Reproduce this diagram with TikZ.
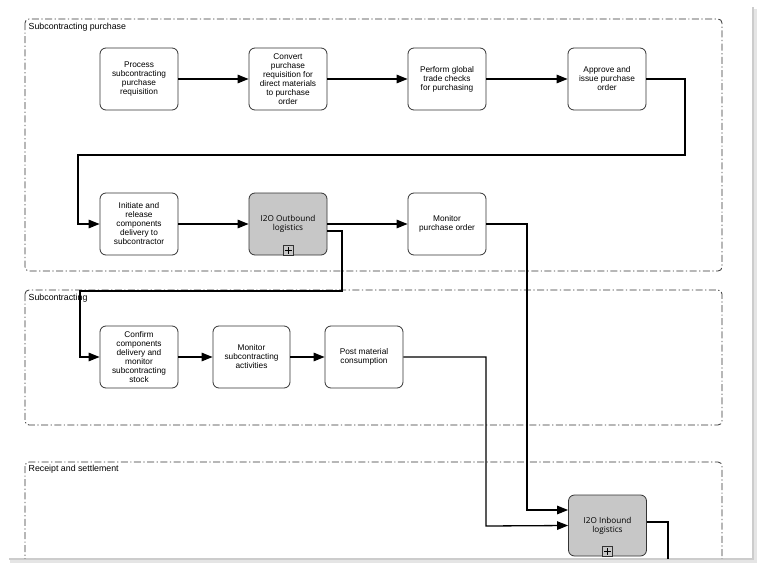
\documentclass[tikz,border=0pt]{standalone}
\usepackage{fontspec}
\setmainfont{Liberation Sans}
\newfontfamily\ifont{Open Sans}
\usetikzlibrary{arrows.meta,positioning,calc}
\tikzset{
  task/.style={draw=black!80, line width=0.8pt, rounded corners=6pt, fill=white,
    minimum width=78pt, minimum height=62pt, inner sep=1pt, align=center,
    font=\fontsize{8.3}{9}\selectfont},
  subproc/.style={task, fill=black!22, font=\ifont\fontsize{8.2}{9}\selectfont},
  grp/.style={draw=black!80, line width=0.8pt, rounded corners=4pt,
    dash pattern=on 7pt off 2.5pt on 1.2pt off 2.5pt},
  grplabel/.style={anchor=west, font=\fontsize{8.8}{9}\selectfont, inner sep=1.5pt,
    fill=white},
  flow/.style={draw=black, line width=1.3pt, -{Triangle[length=11pt,width=8.5pt]}},
  plainflow/.style={draw=black, line width=1.3pt},
  plusbox/.style={draw=black!80, line width=0.6pt, fill=black!22, minimum size=10pt, inner sep=0pt}
}
\begin{document}
\begin{tikzpicture}[x=1pt,y=-1pt]
\useasboundingbox (0,0) rectangle (764,570);
% page and shadow
\fill[black!10] (10,9) rectangle (757,563);
\fill[black!20] (9,7) rectangle (754,560);
\fill[white] (7,5) rectangle (752,558);
\begin{scope}
\clip (7,5) rectangle (752,558);
% groups
\draw[grp] (25,19) rectangle (722,271);
\draw[grp] (25,290) rectangle (722,425);
\draw[grp] (25,462) rectangle (722,600);
\node[grplabel] (g1) at (27,27) {Subcontracting purchase};
\node[grplabel, fill=none] (g2) at (27,298) {Subcontracting};
\node[grplabel, fill=none] (g3) at (27,469) {Receipt and settlement};
% row 1
\node[task] (n1) at (139,79) {Process\\subcontracting\\purchase\\requisition};
\node[task] (n2) at (288,79) {Convert\\purchase\\requisition for\\direct materials\\to purchase\\order};
\node[task] (n3) at (447,79) {Perform global\\trade checks\\for purchasing};
\node[task] (n4) at (607,79) {Approve and\\issue purchase\\order};
% row 2
\node[task] (n5) at (139,224) {Initiate and\\release\\components\\delivery to\\subcontractor};
\node[subproc] (n6) at (288,224) {I2O Outbound\\logistics};
\node[plusbox, anchor=south] (p6) at (n6.south) {};
\draw[line width=0.6pt] ([xshift=-3.5pt]p6.center) -- ([xshift=3.5pt]p6.center)
  ([yshift=-3.5pt]p6.center) -- ([yshift=3.5pt]p6.center);
\node[task] (n7) at (447,224) {Monitor\\purchase order};
% row 3
\node[task] (n8) at (139,357) {Confirm\\components\\delivery and\\monitor\\subcontracting\\stock};
\node[task, minimum width=77pt] (n9) at (251.5,357) {Monitor\\subcontracting\\activities};
\node[task] (n10) at (364,357) {Post material\\consumption};
% row 4
\node[subproc, minimum height=61pt] (n11) at (607.5,525.5) {I2O Inbound\\logistics};
\node[plusbox, anchor=south] (p11) at (n11.south) {};
\draw[line width=0.6pt] ([xshift=-3.5pt]p11.center) -- ([xshift=3.5pt]p11.center)
  ([yshift=-3.5pt]p11.center) -- ([yshift=3.5pt]p11.center);
% coordinates
\coordinate (c1) at (685,155);
\coordinate (c2) at (78,155);
\coordinate (c3) at (342,291);
\coordinate (c4) at (80,291);
\coordinate (c5) at (527,510);
\coordinate (c6) at (486,526);
\coordinate (c7) at (668,575);
% connectors
\draw[flow] (n1) -- (n2);
\draw[flow] (n2) -- (n3);
\draw[flow] (n3) -- (n4);
\draw[flow] (n4.east) -| (c1) -- (c2) |- (n5.west);
\draw[flow] (n5) -- (n6);
\draw[flow] (n6) -- (n7);
\draw[flow] ([yshift=-7pt]n6.east) -| (c3) -- (c4) |- (n8.west);
\draw[flow] (n8) -- (n9);
\draw[flow] (n9) -- (n10);
\draw[flow] (n7.east) -| (c5) -- ([yshift=15.5pt]n11.west);
\draw[flow] (n10.east) -| (c6) -- (n11.west);
\draw[plainflow] ([yshift=3.5pt]n11.east) -| (c7);
\end{scope}
\end{tikzpicture}
\end{document}
